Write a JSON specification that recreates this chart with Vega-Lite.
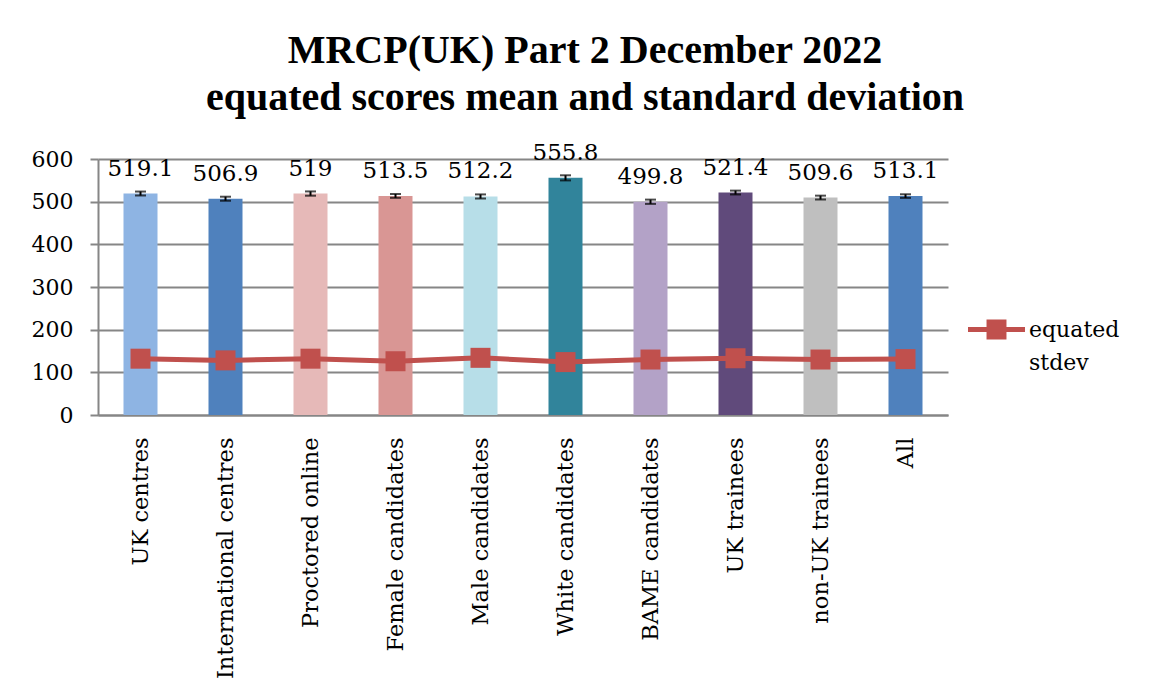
{
  "$schema": "https://vega.github.io/schema/vega-lite/v6.json",
  "autosize": "none",
  "width": 850,
  "height": 256,
  "padding": {"left": 98, "top": 159, "right": 219, "bottom": 285},
  "background": "white",
  "title": {
    "text": ["MRCP(UK) Part 2 December 2022", "equated scores mean and standard deviation"],
    "anchor": "middle",
    "frame": "group",
    "dx": 62,
    "offset": 24,
    "font": "Liberation Serif",
    "fontSize": 40,
    "fontWeight": "bold",
    "lineHeight": 47,
    "color": "black"
  },
  "data": {
    "values": [
      {"group": "UK centres", "mean": 519.1, "err": 4.6, "stdev": 132},
      {"group": "International centres", "mean": 506.9, "err": 4.7, "stdev": 128},
      {"group": "Proctored online", "mean": 519, "err": 5, "stdev": 132},
      {"group": "Female candidates", "mean": 513.5, "err": 4.5, "stdev": 126},
      {"group": "Male candidates", "mean": 512.2, "err": 4.8, "stdev": 134},
      {"group": "White candidates", "mean": 555.8, "err": 6, "stdev": 124},
      {"group": "BAME candidates", "mean": 499.8, "err": 5, "stdev": 130},
      {"group": "UK trainees", "mean": 521.4, "err": 4.5, "stdev": 133},
      {"group": "non-UK trainees", "mean": 509.6, "err": 4.5, "stdev": 130},
      {"group": "All", "mean": 513.1, "err": 4.2, "stdev": 131}
    ]
  },
  "encoding": {
    "x": {
      "field": "group",
      "type": "nominal",
      "sort": null,
      "scale": {"paddingInner": 0.6, "paddingOuter": 0.3},
      "axis": {
        "title": null,
        "labelAngle": -90,
        "labelFont": "DejaVu Serif",
        "labelFontSize": 22.5,
        "labelColor": "black",
        "labelPadding": 22,
        "labelLimit": 400,
        "ticks": false,
        "domainColor": "#868686",
        "domainWidth": 2,
        "grid": false
      }
    }
  },
  "layer": [
    {
      "mark": {"type": "bar"},
      "encoding": {
        "y": {
          "field": "mean",
          "type": "quantitative",
          "scale": {"domain": [0, 600]},
          "axis": {
            "title": null,
            "values": [0, 100, 200, 300, 400, 500, 600],
            "labelFont": "DejaVu Serif",
            "labelFontSize": 22,
            "labelColor": "black",
            "labelPadding": 17,
            "tickSize": 8,
            "tickColor": "#868686",
            "tickWidth": 2,
            "domainColor": "#868686",
            "domainWidth": 2,
            "grid": true,
            "gridColor": "#868686",
            "gridWidth": 2
          }
        },
        "color": {
          "field": "group",
          "type": "nominal",
          "sort": null,
          "scale": {
            "domain": ["UK centres", "International centres", "Proctored online", "Female candidates", "Male candidates", "White candidates", "BAME candidates", "UK trainees", "non-UK trainees", "All"],
            "range": ["#8EB4E3", "#4F81BD", "#E6B9B8", "#D99694", "#B7DEE8", "#31849B", "#B3A2C7", "#604A7B", "#BFBFBF", "#4F81BD"]
          },
          "legend": null
        }
      }
    },
    {
      "mark": {"type": "errorbar", "ticks": {"size": 11, "thickness": 2, "color": "black"}, "rule": {"strokeWidth": 2, "color": "black"}, "color": "black"},
      "encoding": {
        "y": {"field": "mean", "type": "quantitative"},
        "yError": {"field": "err"}
      }
    },
    {
      "mark": {"type": "text", "dy": -25, "baseline": "middle", "font": "DejaVu Serif", "fontSize": 23, "color": "black"},
      "encoding": {
        "y": {"field": "mean", "type": "quantitative"},
        "text": {"field": "mean", "type": "quantitative"}
      }
    },
    {
      "mark": {
        "type": "line",
        "strokeWidth": 5,
        "point": {"shape": "square", "size": 400, "filled": true, "opacity": 1}
      },
      "encoding": {
        "y": {"field": "stdev", "type": "quantitative"},
        "color": {
          "datum": "equated stdev",
          "scale": {"domain": ["equated stdev"], "range": ["#C0504D"]},
          "legend": {
            "title": null,
            "orient": "none",
            "legendX": 870,
            "legendY": 142,
            "symbolType": "M-1,-0.088 L1,-0.088 L1,0.088 L-1,0.088 Z M-0.35,-0.35 L0.35,-0.35 L0.35,0.35 L-0.35,0.35 Z",
            "symbolSize": 3249,
            "symbolStrokeWidth": 0,
            "symbolFillColor": "#C0504D",
            "labelFont": "DejaVu Serif",
            "labelFontSize": 22,
            "labelColor": "black",
            "labelOffset": 4,
            "labelExpr": "['equated', 'stdev']",
            "encode": {
              "symbols": {"update": {"fill": {"value": "#C0504D"}, "stroke": {"value": "#C0504D"}, "strokeWidth": {"value": 0}, "opacity": {"value": 1}}},
              "labels": {"update": {"lineHeight": {"value": 33}}}
            }
          }
        }
      }
    }
  ],
  "resolve": {"scale": {"color": "independent", "y": "shared"}},
  "config": {
    "view": {"stroke": null},
    "font": "DejaVu Serif"
  }
}
